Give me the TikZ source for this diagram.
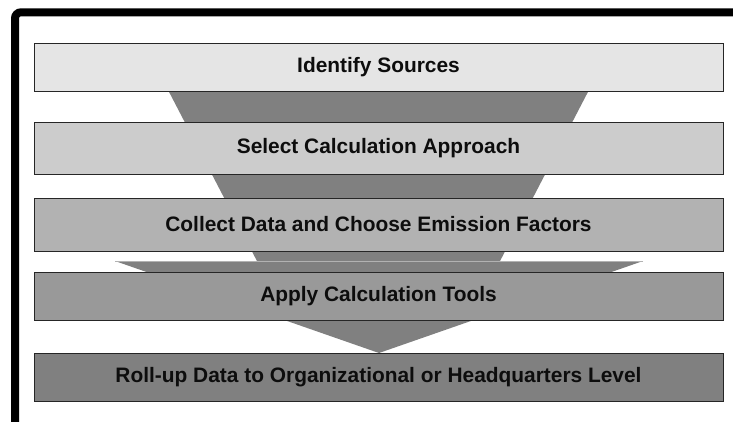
\documentclass[tikz,border=0pt]{standalone}
\usepackage{fontspec}
\setmainfont{Liberation Sans}
\begin{document}
\begin{tikzpicture}[x=1bp,y=-1bp,
  stepbox/.style={draw=black!85,line width=0.9bp,minimum width=689bp,inner sep=0pt,
    font=\bfseries\fontsize{20.9bp}{24bp}\selectfont,text=black!95},
  funnel/.style={fill=black!50,draw=none}]
\useasboundingbox (0,0) rectangle (733,421);
\fill[white] (0,0) rectangle (733,421);
% frame
\draw[line width=8bp,rounded corners=6bp] (15,425) -- (15,12.3) -- (740,12.3);
% funnel body
\coordinate (f1) at (167,88);
\coordinate (f2) at (590,88);
\coordinate (f3) at (499,263);
\coordinate (f4) at (258,263);
\fill[funnel] (f1) -- (f2) -- (f3) -- (f4) -- cycle;
% arrow head
\coordinate (c1) at (115,261);
\coordinate (c2) at (643,261);
\coordinate (c3) at (379,353);
\fill[funnel] (c1) -- (c2) -- (c3) -- cycle;
\draw[black!30,line width=0.8bp] (c1) -- (c2);
% boxes
\node[stepbox,fill=black!10,minimum height=48bp] (b1) at (378.5,67) {Identify Sources};
\node[stepbox,fill=black!20,minimum height=52bp] (b2) at (378.5,148) {Select Calculation Approach};
\node[stepbox,fill=black!30,minimum height=53bp] (b3) at (378.5,224.5) {Collect Data and Choose Emission Factors};
\node[stepbox,fill=black!40,minimum height=48bp] (b4) at (378.5,296) {Apply Calculation Tools};
\node[stepbox,fill=black!50,minimum height=48bp] (b5) at (378.5,377) {Roll-up Data to Organizational or Headquarters Level};
\end{tikzpicture}
\end{document}
